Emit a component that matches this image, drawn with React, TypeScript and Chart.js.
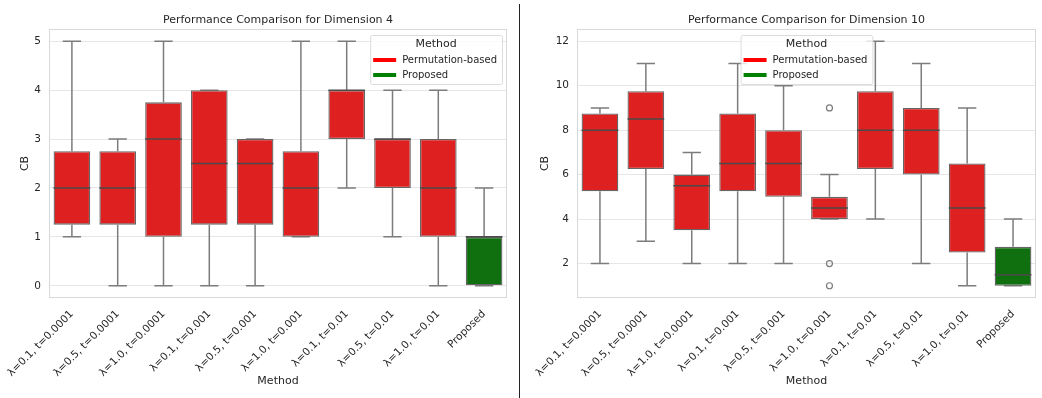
import React, { useEffect, useRef } from 'react';
import { Chart, registerables } from 'chart.js';

Chart.register(...registerables);

// ---------- data ----------
const categories = [
  'λ=0.1, t=0.0001',
  'λ=0.5, t=0.0001',
  'λ=1.0, t=0.0001',
  'λ=0.1, t=0.001',
  'λ=0.5, t=0.001',
  'λ=1.0, t=0.001',
  'λ=0.1, t=0.01',
  'λ=0.5, t=0.01',
  'λ=1.0, t=0.01',
  'Proposed',
];
const seriesNames = ['Permutation-based', 'Proposed'];
const groupOf = [
  'Permutation-based', 'Permutation-based', 'Permutation-based',
  'Permutation-based', 'Permutation-based', 'Permutation-based',
  'Permutation-based', 'Permutation-based', 'Permutation-based',
  'Proposed',
];

// Dimension 4
const d4Q1 = [1.25, 1.25, 1, 1.25, 1.25, 1, 3, 2, 1, 0];
const d4Q3 = [2.75, 2.75, 3.75, 4, 3, 2.75, 4, 3, 3, 1];
const d4Median = [2, 2, 3, 2.5, 2.5, 2, 4, 3, 2, 1];
const d4WhiskerLo = [1, 0, 0, 0, 0, 1, 2, 1, 0, 0];
const d4WhiskerHi = [5, 3, 5, 4, 3, 5, 5, 4, 4, 2];
const d4Outliers: number[][] = [[], [], [], [], [], [], [], [], [], []];
const d4YTicks = [0, 1, 2, 3, 4, 5];

// Dimension 10
const d10Q1 = [5.25, 6.25, 3.5, 5.25, 5, 4, 6.25, 6, 2.5, 1];
const d10Q3 = [8.75, 9.75, 6, 8.75, 8, 5, 9.75, 9, 6.5, 2.75];
const d10Median = [8, 8.5, 5.5, 6.5, 6.5, 4.5, 8, 8, 4.5, 1.5];
const d10WhiskerLo = [2, 3, 2, 2, 2, 4, 4, 2, 1, 1];
const d10WhiskerHi = [9, 11, 7, 11, 10, 6, 12, 11, 9, 4];
const d10Outliers: number[][] = [[], [], [], [], [], [9, 2, 1], [], [], [], []];
const d10YTicks = [2, 4, 6, 8, 10, 12];

// ---------- style ----------
const FONT = '"DejaVu Sans", "Liberation Sans", sans-serif';
const TEXT = '#262626';
const BOX_RED = '#DE2020';
const BOX_GREEN = '#107010';
const LEG_RED = '#FF0000';
const LEG_GREEN = '#008000';
const EDGE = '#666666';
const WHISKER = '#7c7c7c';
const MEDIAN = '#4a4a4a';
const GRID = '#e6e6e6';
const FRAME = '#d8d8d8';

const boxPlugin = {
  id: 'boxExtras',
  beforeDatasetsDraw(chart: any) {
    const o = chart.options.plugins.boxExtras;
    if (!o) return;
    const { ctx, scales } = chart;
    const x = scales.x, y = scales.y;
    const meta = chart.getDatasetMeta(0);
    ctx.save();
    ctx.strokeStyle = WHISKER;
    ctx.lineWidth = 1.5;
    o.lo.forEach((lo: number, i: number) => {
      const bar = meta.data[i];
      const cx = x.getPixelForValue(i);
      const half = bar.width / 4;
      const yLo = y.getPixelForValue(lo);
      const yHi = y.getPixelForValue(o.hi[i]);
      const yQ1 = y.getPixelForValue(o.q1[i]);
      const yQ3 = y.getPixelForValue(o.q3[i]);
      ctx.beginPath();
      ctx.moveTo(cx, yQ1); ctx.lineTo(cx, yLo);
      ctx.moveTo(cx - half, yLo); ctx.lineTo(cx + half, yLo);
      ctx.moveTo(cx, yQ3); ctx.lineTo(cx, yHi);
      ctx.moveTo(cx - half, yHi); ctx.lineTo(cx + half, yHi);
      ctx.stroke();
    });
    ctx.restore();
  },
  afterDatasetsDraw(chart: any) {
    const o = chart.options.plugins.boxExtras;
    if (!o) return;
    const { ctx, scales, chartArea: a } = chart;
    const x = scales.x, y = scales.y;
    const meta = chart.getDatasetMeta(0);
    ctx.save();
    ctx.strokeStyle = MEDIAN;
    ctx.lineWidth = 1.5;
    o.median.forEach((m: number, i: number) => {
      const bar = meta.data[i];
      const cx = x.getPixelForValue(i);
      const hw = bar.width / 2;
      const ym = y.getPixelForValue(m);
      ctx.beginPath();
      ctx.moveTo(cx - hw, ym); ctx.lineTo(cx + hw, ym);
      ctx.stroke();
    });
    ctx.strokeStyle = WHISKER;
    ctx.lineWidth = 1.2;
    o.outliers.forEach((list: number[], i: number) => {
      const cx = x.getPixelForValue(i);
      list.forEach((v) => {
        ctx.beginPath();
        ctx.arc(cx, y.getPixelForValue(v), 3, 0, Math.PI * 2);
        ctx.stroke();
      });
    });
    // frame
    ctx.strokeStyle = FRAME;
    ctx.lineWidth = 1;
    ctx.strokeRect(Math.round(a.left) + 0.5, Math.round(a.top) + 0.5, Math.round(a.right - a.left) - 1, Math.round(a.bottom - a.top) - 1);
    ctx.restore();
  },
  afterDraw(chart: any) {
    const o = chart.options.plugins.boxExtras;
    if (!o) return;
    const { ctx, chartArea: a } = chart;
    ctx.save();
    // title
    ctx.fillStyle = TEXT;
    ctx.font = `11px ${FONT}`;
    ctx.textAlign = 'center';
    ctx.textBaseline = 'middle';
    ctx.fillText(o.title, (a.left + a.right) / 2, 20);
    // legend
    ctx.font = `10px ${FONT}`;
    const maxW = Math.max(...seriesNames.map((s) => ctx.measureText(s).width));
    const w = 3 + 23 + 6 + maxW + 5;
    const h = 49;
    const lx = o.legendLoc === 'upper right' ? a.right - 5 - w : (a.left + a.right) / 2 - w / 2;
    const ly = a.top + 6;
    ctx.beginPath();
    if ((ctx as any).roundRect) (ctx as any).roundRect(lx + 0.5, ly + 0.5, w, h, 2);
    else ctx.rect(lx + 0.5, ly + 0.5, w, h);
    ctx.fillStyle = 'rgba(255,255,255,0.8)';
    ctx.fill();
    ctx.strokeStyle = '#dcdcdc';
    ctx.lineWidth = 1;
    ctx.stroke();
    ctx.fillStyle = TEXT;
    ctx.font = `11px ${FONT}`;
    ctx.textAlign = 'center';
    ctx.fillText('Method', lx + w / 2, ly + 9);
    ctx.font = `10px ${FONT}`;
    ctx.textAlign = 'left';
    const legColors = [LEG_RED, LEG_GREEN];
    seriesNames.forEach((s, k) => {
      const yy = ly + 25 + k * 15;
      ctx.strokeStyle = legColors[k];
      ctx.lineWidth = 4;
      ctx.beginPath();
      ctx.moveTo(lx + 3, yy); ctx.lineTo(lx + 26, yy);
      ctx.stroke();
      ctx.fillStyle = TEXT;
      ctx.fillText(s, lx + 32, yy);
    });
    ctx.restore();
  },
};

type PanelProps = {
  title: string;
  q1: number[]; q3: number[]; median: number[]; lo: number[]; hi: number[];
  outliers: number[][]; yTicks: number[]; yMin: number; yMax: number;
  yAxisWidth: number; padRight: number; legendLoc: string; width: number;
};

function Panel(p: PanelProps) {
  const ref = useRef<HTMLCanvasElement>(null);
  useEffect(() => {
    const chart = new Chart(ref.current!, {
      type: 'bar',
      data: {
        labels: categories,
        datasets: [
          {
            label: 'CB',
            data: p.q1.map((v, i) => [v, p.q3[i]]) as any,
            backgroundColor: groupOf.map((g) => (g === 'Proposed' ? BOX_GREEN : BOX_RED)),
            borderColor: EDGE,
            borderWidth: 1.3,
            borderSkipped: false,
            barPercentage: 0.8,
            categoryPercentage: 1,
          },
        ],
      },
      options: {
        animation: false,
        responsive: false,
        maintainAspectRatio: false,
        layout: { padding: { top: 29, right: p.padRight, left: 0, bottom: 0 } },
        plugins: {
          legend: { display: false },
          tooltip: { enabled: false },
          title: { display: false },
          boxExtras: {
            title: p.title, q1: p.q1, q3: p.q3, median: p.median, lo: p.lo, hi: p.hi,
            outliers: p.outliers, legendLoc: p.legendLoc,
          },
        } as any,
        scales: {
          x: {
            grid: { display: false },
            border: { display: false },
            ticks: {
              autoSkip: false, maxRotation: 45, minRotation: 45,
              font: { size: 10.5, family: FONT }, color: TEXT, padding: 2,
            },
            title: {
              display: true, text: 'Method', color: TEXT,
              font: { size: 11, family: FONT }, padding: { top: 0, bottom: 10 },
            },
            afterFit: (s: any) => { s.height = 100; },
          },
          y: {
            min: p.yMin, max: p.yMax,
            afterBuildTicks: (s: any) => { s.ticks = p.yTicks.map((v) => ({ value: v })); },
            grid: { color: GRID, drawTicks: false, lineWidth: 1 },
            border: { display: false },
            ticks: { padding: 8, font: { size: 10.5, family: FONT }, color: TEXT },
            title: {
              display: true, text: 'CB', color: TEXT,
              font: { size: 11, family: FONT }, padding: { top: 18.5, bottom: 0 },
            },
            afterFit: (s: any) => { s.width = p.yAxisWidth; },
          },
        },
      },
      plugins: [boxPlugin],
    });
    return () => chart.destroy();
  }, []);
  return <canvas ref={ref} width={p.width} height={398} style={{ width: p.width, height: 398, display: 'block' }} />;
}

export default function App() {
  return (
    <div style={{ position: 'fixed', left: 0, top: 0, width: 1042, height: 398, background: '#fff' }}>
      <div style={{ position: 'absolute', left: 0, top: 0 }}>
        <Panel
          title="Performance Comparison for Dimension 4"
          q1={d4Q1} q3={d4Q3} median={d4Median} lo={d4WhiskerLo} hi={d4WhiskerHi}
          outliers={d4Outliers} yTicks={d4YTicks} yMin={-0.25} yMax={5.25}
          yAxisWidth={49} padRight={12} legendLoc="upper right" width={519}
        />
      </div>
      <div style={{ position: 'absolute', left: 519, top: 4, width: 1, height: 394, background: '#222' }} />
      <div style={{ position: 'absolute', left: 520, top: 0 }}>
        <Panel
          title="Performance Comparison for Dimension 10"
          q1={d10Q1} q3={d10Q3} median={d10Median} lo={d10WhiskerLo} hi={d10WhiskerHi}
          outliers={d10Outliers} yTicks={d10YTicks} yMin={0.45} yMax={12.55}
          yAxisWidth={57} padRight={6} legendLoc="upper center" width={522}
        />
      </div>
    </div>
  );
}
